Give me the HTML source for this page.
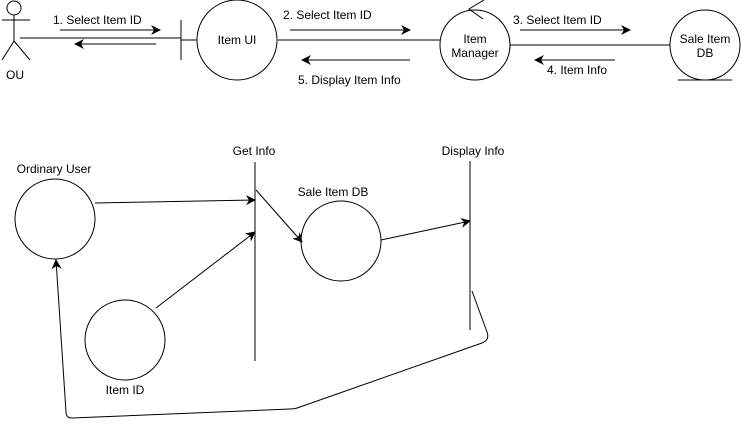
<!DOCTYPE html>
<html><head><style>
body{margin:0;background:#fff;}
svg{display:block;}
text{font-family:"Liberation Sans",sans-serif;font-size:12px;fill:#000;}
</style></head><body>
<svg width="741" height="428" viewBox="0 0 741 428" xmlns="http://www.w3.org/2000/svg">
<defs>
<marker id="a" markerWidth="10" markerHeight="10" refX="9" refY="5" orient="auto" markerUnits="userSpaceOnUse">
<path d="M0,0 L10,5 L0,10 L3,5 z" fill="#000"/>
</marker>
</defs>
<g stroke="#000" fill="none" stroke-width="1">
<!-- actor -->
<circle cx="14" cy="8" r="7"/>
<line x1="14" y1="15" x2="14" y2="41"/>
<line x1="2" y1="20" x2="30" y2="20"/>
<line x1="14" y1="41" x2="2" y2="60"/>
<line x1="14" y1="41" x2="30" y2="60"/>
<line x1="20" y1="38" x2="181" y2="38"/>
<!-- boundary -->
<line x1="181" y1="20" x2="181" y2="60"/>
<line x1="181" y1="40" x2="197" y2="40"/>
<circle cx="237" cy="40" r="40"/>
<line x1="278" y1="40" x2="440" y2="40"/>
<!-- control -->
<circle cx="475" cy="45" r="35"/>
<path d="M484,0 L469,9 L483,19"/>
<line x1="510" y1="45" x2="670" y2="45"/>
<!-- entity -->
<circle cx="705" cy="45" r="35"/>
<line x1="678" y1="80" x2="732" y2="80"/>
<!-- top arrows -->
<line x1="60" y1="30" x2="160" y2="30" marker-end="url(#a)"/>
<line x1="156" y1="44" x2="75" y2="44" marker-end="url(#a)"/>
<line x1="290" y1="30" x2="410" y2="30" marker-end="url(#a)"/>
<line x1="410" y1="60" x2="302" y2="60" marker-end="url(#a)"/>
<line x1="520" y1="30" x2="630" y2="30" marker-end="url(#a)"/>
<line x1="615" y1="60" x2="535" y2="60" marker-end="url(#a)"/>
<!-- bottom -->
<circle cx="55" cy="219" r="40"/>
<circle cx="341" cy="241" r="40"/>
<circle cx="125" cy="340" r="40"/>
<line x1="255" y1="162" x2="255" y2="361"/>
<line x1="470" y1="161" x2="470" y2="330"/>
<line x1="95" y1="203" x2="255" y2="200" marker-end="url(#a)"/>
<line x1="156" y1="308" x2="255" y2="232" marker-end="url(#a)"/>
<line x1="256" y1="190" x2="302" y2="242" marker-end="url(#a)"/>
<line x1="381" y1="240" x2="470" y2="221" marker-end="url(#a)"/>
<path d="M472,291 L487,332 Q490,340 482,343 L300,407 Q295,409 290,409 L72,418 Q66,418 66,412 L56,260" marker-end="url(#a)"/>
</g>
<text x="53" y="24">1. Select Item ID</text>
<text x="237" y="44" text-anchor="middle">Item UI</text>
<text x="283" y="19">2. Select Item ID</text>
<text x="298" y="84">5. Display Item Info</text>
<text x="475" y="43" text-anchor="middle">Item</text>
<text x="475" y="57" text-anchor="middle">Manager</text>
<text x="513" y="24">3. Select Item ID</text>
<text x="547" y="74">4. Item Info</text>
<text x="705" y="43" text-anchor="middle">Sale Item</text>
<text x="705" y="57" text-anchor="middle">DB</text>
<text x="15" y="79" text-anchor="middle">OU</text>
<text x="54" y="173" text-anchor="middle">Ordinary User</text>
<text x="254" y="155" text-anchor="middle">Get Info</text>
<text x="473" y="155" text-anchor="middle">Display Info</text>
<text x="333" y="196" text-anchor="middle">Sale Item DB</text>
<text x="125" y="394" text-anchor="middle">Item ID</text>
</svg>
</body></html>
